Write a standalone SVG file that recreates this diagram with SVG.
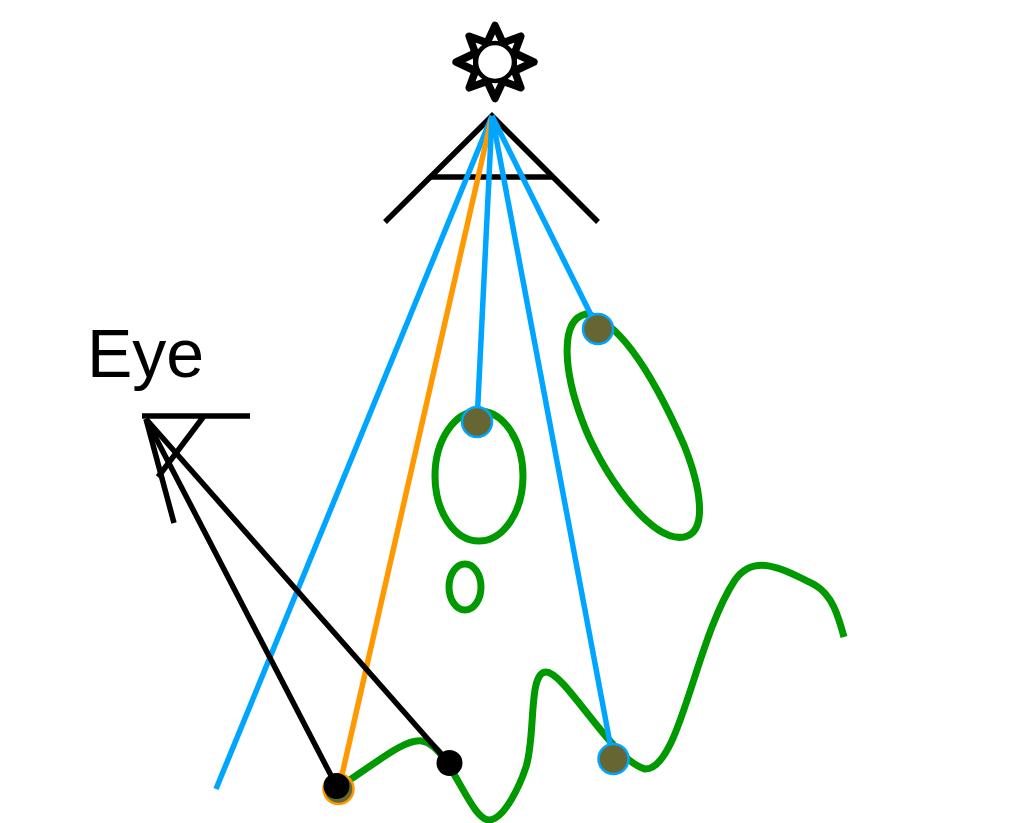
<svg xmlns="http://www.w3.org/2000/svg" width="1027" height="823" viewBox="0 0 1027 823">
<style>
.k{fill:none;stroke:#000;stroke-width:5.5}
.g{fill:none;stroke:#009900;stroke-width:7}
.b{fill:none;stroke:#00a5ff;stroke-width:5.5}
.o{fill:none;stroke:#ff9900;stroke-width:5.5}
.dot{fill:#666633;stroke:#00a5ff;stroke-width:2.5}
.petal{fill:#fff;stroke:#000;stroke-width:7.5;stroke-linejoin:round}
</style>
<defs><path id="p" class="petal" d="M-9 -17 L0 -36.500 L9 -17 Z"/></defs>
<rect width="1027" height="823" fill="#fff"/>
<g id="sun">
<g transform="translate(495,62)">
<use href="#p"/><use href="#p" transform="rotate(45)"/><use href="#p" transform="rotate(90) scale(1.060)"/><use href="#p" transform="rotate(135)"/><use href="#p" transform="rotate(180)"/><use href="#p" transform="rotate(225)"/><use href="#p" transform="rotate(270) scale(1.060)"/><use href="#p" transform="rotate(315)"/>
<circle r="19" fill="#fff" stroke="#000" stroke-width="4.500"/>
</g>
</g>
<g id="light-cone">
<path class="k" d="M385 222 L492 116 L598 222"/>
<path class="k" d="M430 177 H553"/>
</g>
<g id="objects">
<ellipse class="g" cx="479" cy="476" rx="44" ry="65"/>
<ellipse class="g" cx="465" cy="587" rx="16" ry="23"/>
<path class="g" d="M586 314 C625 322 662 395 684 445 C700 485 709 532 684 537 C650 543 600 470 582 420 C565 375 558 320 586 314 Z"/>
<path class="g" d="M345 783 C375 764 405 738 422 741 C450 745 470 822 490 820 C505 818 520 785 526 767 C536 735 528 672 546 672 C565 672 612 760 645 769 C680 770 695 640 735 580 C755 552 785 570 815 585 C832 595 838 615 844 637"/>
</g>
<g id="connectors">
<path class="b" d="M492 116 L216 789"/>
<path class="o" d="M492 116 L339 788"/>
<path class="b" d="M492 116 L477 422"/>
<path class="b" d="M492 116 L613 759"/>
<path class="b" d="M492 116 L598 329"/>
<path class="k" d="M146 419 L337 787"/>
<path class="k" d="M146 419 L449 763"/>
</g>
<g id="points">
<circle class="dot" cx="477" cy="422" r="15"/>
<circle class="dot" cx="598" cy="329" r="15"/>
<circle class="dot" cx="613.500" cy="759" r="15"/>
<circle cx="338.500" cy="789" r="15" fill="#666633" stroke="#ff9900" stroke-width="2.500"/>
<circle cx="336.500" cy="786" r="13" fill="#000"/>
<circle cx="449.500" cy="763" r="13" fill="#000"/>
</g>
<g id="eye">
<text x="87" y="377" font-family="'Liberation Sans',Arial,sans-serif" font-size="68" fill="#000">Eye</text>
<path class="k" d="M142 416 H250"/>
<path class="k" d="M204 416 L158 477"/>
<path class="k" d="M146 419 L174 523"/>
</g>
</svg>
